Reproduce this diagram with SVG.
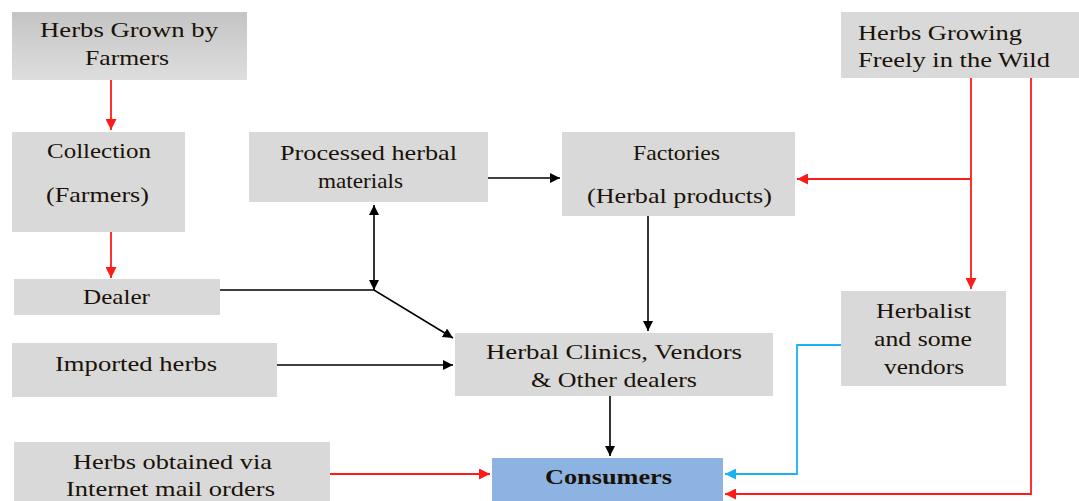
<svg xmlns="http://www.w3.org/2000/svg" width="1079" height="501" viewBox="0 0 1079 501">
<style>
.box{fill:#d9d9d9;}
text{font-family:'Liberation Serif','Times New Roman','DejaVu Serif',serif;font-size:21px;fill:#1a1208;text-anchor:middle;}
.s{text-anchor:start;}
.k{stroke:#000;stroke-width:1.6;fill:none;}
.r{stroke:#ff1a1a;stroke-width:1.8;fill:none;}
.b{stroke:#1ab2ef;stroke-width:1.8;fill:none;}
</style>
<defs>
<linearGradient id="g1" x1="0" y1="0" x2="0" y2="1">
<stop offset="0" stop-color="#c4c4c4"/><stop offset="1" stop-color="#dedede"/>
</linearGradient>
<marker id="ak" viewBox="0 0 10 10" refX="10" refY="5" markerWidth="10" markerHeight="10" markerUnits="userSpaceOnUse" orient="auto-start-reverse"><path d="M0,0L10,5L0,10z" fill="#000"/></marker>
<marker id="ar" viewBox="0 0 10 10" refX="10" refY="5" markerWidth="11" markerHeight="11" markerUnits="userSpaceOnUse" orient="auto"><path d="M0,0L10,5L0,10z" fill="#ff1a1a"/></marker>
<marker id="ab" viewBox="0 0 10 10" refX="10" refY="5" markerWidth="11" markerHeight="11" markerUnits="userSpaceOnUse" orient="auto"><path d="M0,0L10,5L0,10z" fill="#1ab2ef"/></marker>
</defs>
<g id="connectors">
<path class="r" d="M111,80V130" marker-end="url(#ar)"/>
<path class="r" d="M111,232V278" marker-end="url(#ar)"/>
<path class="k" d="M488,178H560" marker-end="url(#ak)"/>
<path class="k" d="M374,205V290" marker-start="url(#ak)" marker-end="url(#ak)"/>
<path class="k" d="M220,290H374L453,338" marker-end="url(#ak)"/>
<path class="k" d="M277,365H453" marker-end="url(#ak)"/>
<path class="k" d="M648,216V331" marker-end="url(#ak)"/>
<path class="k" d="M610,396V456" marker-end="url(#ak)"/>
<path class="r" d="M330,474H490" marker-end="url(#ar)"/>
<path class="r" d="M971,78V289" marker-end="url(#ar)"/>
<path class="r" d="M971,179H797" marker-end="url(#ar)"/>
<path class="r" d="M1031,78V494H725" marker-end="url(#ar)"/>
<path class="b" d="M841,345H797V474H725" marker-end="url(#ab)"/>
</g>
<g id="farmers"><rect x="12" y="12" width="235" height="68" fill="url(#g1)"/><text x="129" y="37" textLength="178" lengthAdjust="spacingAndGlyphs">Herbs Grown by</text><text x="127" y="65" textLength="84" lengthAdjust="spacingAndGlyphs">Farmers</text></g>
<g id="collection"><rect class="box" x="12" y="132" width="173" height="100"/><text x="99" y="158" textLength="104" lengthAdjust="spacingAndGlyphs">Collection</text><text x="97.5" y="202" textLength="103" lengthAdjust="spacingAndGlyphs">(Farmers)</text></g>
<g id="dealer"><rect class="box" x="14" y="279" width="206" height="36"/><text x="116.5" y="304" textLength="67" lengthAdjust="spacingAndGlyphs">Dealer</text></g>
<g id="imported"><rect class="box" x="12" y="343" width="265" height="54"/><text x="136" y="371" textLength="162" lengthAdjust="spacingAndGlyphs">Imported  herbs</text></g>
<g id="internet"><rect class="box" x="14" y="442" width="316" height="59"/><text x="172.5" y="469" textLength="199" lengthAdjust="spacingAndGlyphs">Herbs obtained  via</text><text x="170.5" y="496" textLength="209" lengthAdjust="spacingAndGlyphs">Internet  mail  orders</text></g>
<g id="processed"><rect class="box" x="249" y="132" width="239" height="70"/><text x="368.5" y="160" textLength="177" lengthAdjust="spacingAndGlyphs">Processed herbal</text><text x="360.5" y="188" textLength="85" lengthAdjust="spacingAndGlyphs">materials</text></g>
<g id="factories"><rect class="box" x="562" y="132" width="233" height="84"/><text x="676.5" y="160" textLength="87" lengthAdjust="spacingAndGlyphs">Factories</text><text x="679.5" y="203" textLength="185" lengthAdjust="spacingAndGlyphs">(Herbal products)</text></g>
<g id="wild"><rect class="box" x="841" y="12" width="238" height="66"/><text class="s" x="858" y="40" textLength="164" lengthAdjust="spacingAndGlyphs">Herbs Growing</text><text class="s" x="858" y="67" textLength="192" lengthAdjust="spacingAndGlyphs">Freely in the  Wild</text></g>
<g id="herbalist"><rect class="box" x="841" y="291" width="165" height="95"/><text x="923.5" y="318" textLength="95" lengthAdjust="spacingAndGlyphs">Herbalist</text><text x="923" y="346" textLength="98" lengthAdjust="spacingAndGlyphs">and some</text><text x="924" y="374" textLength="80" lengthAdjust="spacingAndGlyphs">vendors</text></g>
<g id="clinics"><rect class="box" x="455" y="333" width="318" height="63"/><text x="614" y="359" textLength="256" lengthAdjust="spacingAndGlyphs">Herbal Clinics, Vendors</text><text x="614" y="387" textLength="166" lengthAdjust="spacingAndGlyphs">&amp; Other dealers</text></g>
<g id="consumers"><rect x="492" y="458" width="231" height="43" fill="#8db3e2"/><text x="608.5" y="484" textLength="127" lengthAdjust="spacingAndGlyphs" style="font-weight:bold">Consumers</text></g>
</svg>
